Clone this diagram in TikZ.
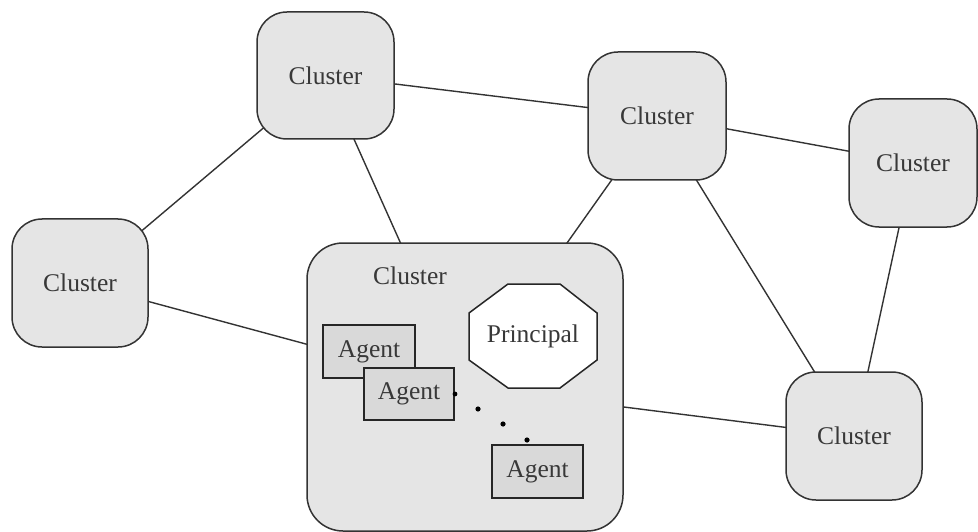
\documentclass[tikz,border=0pt]{standalone}
\usepackage{fontspec}
\setmainfont{Liberation Serif}
\usetikzlibrary{backgrounds}
\begin{document}
\begin{tikzpicture}[x=1pt,y=-1pt,
  lbl/.style={text=black!78, font=\fontsize{25.5}{30}\selectfont},
  cluster/.style={lbl, draw=black!80, line width=1.5pt, fill=black!10,
    rounded corners=30pt, minimum width=136pt, minimum height=128pt, inner sep=0pt},
  bigcluster/.style={draw=black!80, line width=1.5pt, fill=black!10,
    rounded corners=36pt, minimum width=316pt, minimum height=288pt, inner sep=0pt},
  agentbox/.style={lbl, draw=black!85, line width=1.5pt, fill=black!15,
    minimum width=91pt, minimum height=53pt, inner sep=0pt},
  link/.style={draw=black!80, line width=1.4pt},
  octa/.style={draw=black!85, line width=1.5pt, fill=white},
  dot/.style={fill=black, draw=none}]
\useasboundingbox (0,0) rectangle (978,532);

% clusters
\node[cluster, minimum width=137pt, minimum height=127pt] (c1) at (325.5,75.5) {Cluster};
\node[cluster, minimum width=138pt] (c2) at (657,116) {Cluster};
\node[cluster, minimum width=128pt] (c3) at (913,163) {Cluster};
\node[cluster] (c4) at (80,283) {Cluster};
\node[cluster] (c6) at (854,436) {Cluster};
\node[bigcluster] (c5) at (465,387) {};
\node[lbl] (c5t) at (410,276) {Cluster};

% connections between clusters
\begin{pgfonlayer}{background}
  \draw[link] (c4.center) -- (c1.center);
  \draw[link] (c1.center) -- (c5.center);
  \draw[link] (c1.center) -- (c2.center);
  \draw[link] (c2.center) -- (c3.center);
  \draw[link] (c2.center) -- (c5.center);
  \draw[link] (c2.center) -- (c6.center);
  \draw[link] (c3.center) -- (c6.center);
  \draw[link] (c4.center) -- (c5.center);
  \draw[link] (c5.center) -- (c6.center);
\end{pgfonlayer}

% principal
\coordinate (p) at (533,336);
\draw[octa] ([shift={(-25,-52)}]p) -- ([shift={(27,-52)}]p) -- ([shift={(64,-23)}]p)
  -- ([shift={(64,24)}]p) -- ([shift={(27,52)}]p) -- ([shift={(-25,52)}]p)
  -- ([shift={(-64,24)}]p) -- ([shift={(-64,-23)}]p) -- cycle;
\node[lbl] (pr) at (p) {Principal};

% agents
\node[agentbox, minimum width=92pt] (a1) at (369,351.5) {Agent};
\node[agentbox, minimum width=90pt, minimum height=52pt] (a2) at (409,394) {Agent};
\node[agentbox] (a3) at (537.5,471.5) {Agent};

% ellipsis
\fill[dot] (455,394) circle (2.4);
\fill[dot] (478,409) circle (2.6);
\fill[dot] (503,424) circle (2.6);
\fill[dot] (527,440) circle (2.6);
\end{tikzpicture}
\end{document}
